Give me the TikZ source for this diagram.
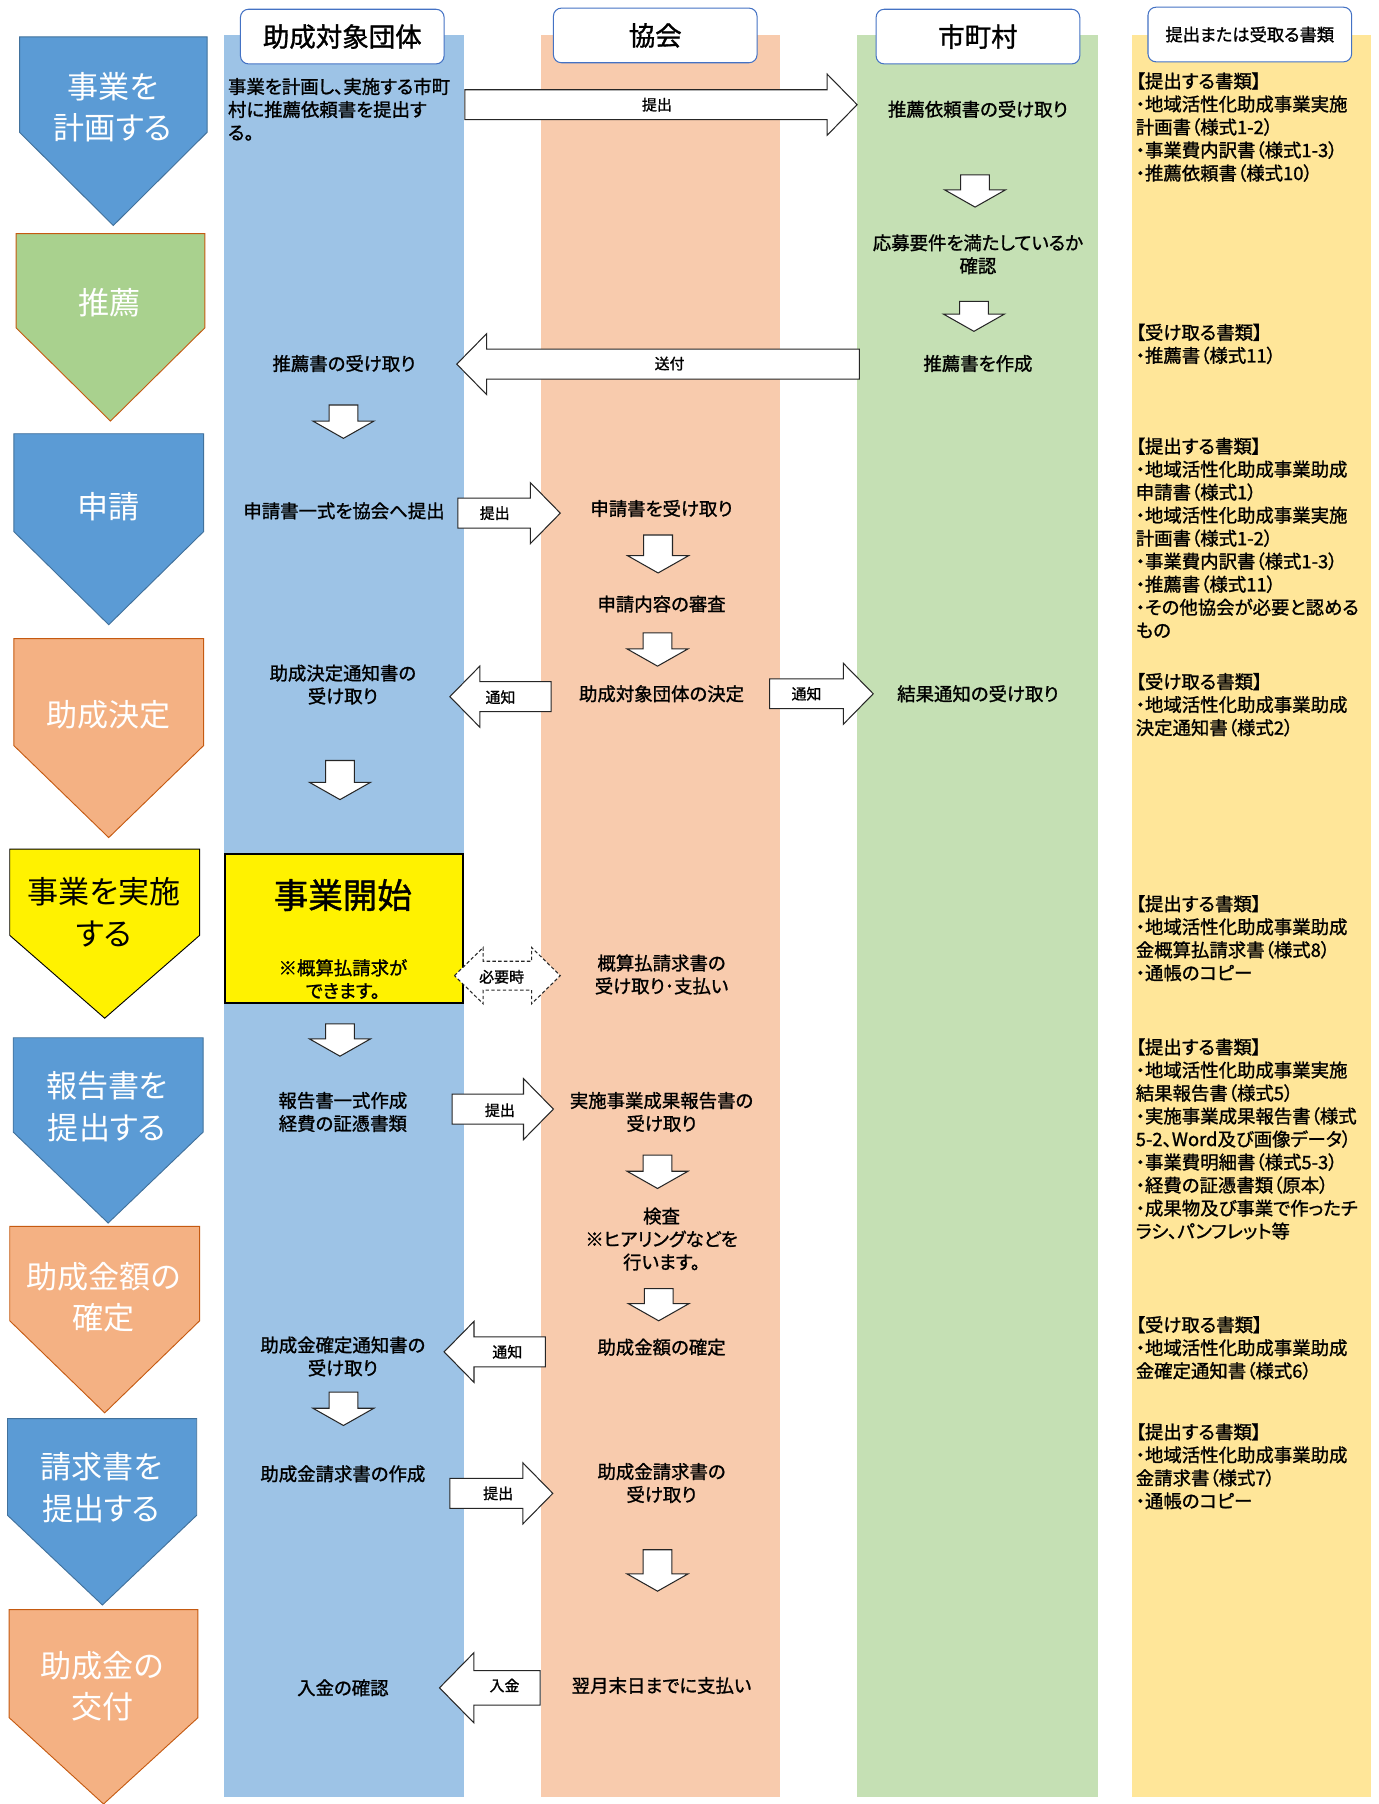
\documentclass[tikz,border=0pt]{standalone}
\usepackage{fontspec}
\setmainfont{Noto Sans CJK JP}[RawFeature=+palt]
\newfontfamily\medfont{Noto Sans CJK JP}[RawFeature=+palt, FakeBold=1.2]
\usetikzlibrary{positioning, calc}
\definecolor{laneA}{HTML}{9DC3E6}
\definecolor{laneB}{HTML}{F8CBAD}
\definecolor{laneC}{HTML}{C5E0B4}
\definecolor{laneD}{HTML}{FFE699}
\definecolor{stepblue}{HTML}{5B9BD5}
\definecolor{stepblueedge}{HTML}{41719C}
\definecolor{stepgreen}{HTML}{A9D18E}
\definecolor{steporange}{HTML}{F4B183}
\definecolor{steporangeedge}{HTML}{C55A11}
\definecolor{headedge}{HTML}{4472C4}
% sideways block arrow: [size]{tail x}{tip x}{y}
\newcommand{\sideblock}[4][1]{%
  \pgfmathsetmacro{\hx}{#3-26*#1*(#3-#2)/abs(#3-#2)}%
  \pgfmathsetmacro{\ys}{13*#1}\pgfmathsetmacro{\yh}{26.5*#1}%
  \draw[block] (#2,#4-\ys) -- (\hx,#4-\ys) -- (\hx,#4-\yh) -- (#3,#4)
    -- (\hx,#4+\yh) -- (\hx,#4+\ys) -- (#2,#4+\ys) -- cycle;}
% downward block arrow: {centre x}{top y}{tip y}
\newcommand{\downblock}[3]{%
  \draw[block] (#1-12.5,#2) -- (#1+12.5,#2) -- (#1+12.5,#3-15) -- (#1+26.5,#3-15)
    -- (#1,#3) -- (#1-26.5,#3-15) -- (#1-12.5,#3-15) -- cycle;}

\begin{document}
\begin{tikzpicture}[
    x=1pt, y=-1pt,
    head/.style={draw=headedge, fill=white, rounded corners=7pt, line width=0.9pt, minimum width=177, minimum height=47.5, inner sep=0, font=\medfont\fontsize{23}{28}\selectfont},
    steptext/.style={white, font=\fontsize{27}{36}\selectfont, align=center, inner sep=0},
    txt/.style={font=\medfont\fontsize{16}{20}\selectfont, align=center, inner sep=0},
    doc/.style={font=\medfont\fontsize{16}{20}\selectfont, align=left, anchor=west, inner sep=0},
    tag/.style={font=\medfont\fontsize{13}{15}\selectfont, inner sep=0},
    block/.style={draw=black!85, fill=white, line width=0.9pt},
    stepb/.style={fill=stepblue, draw=stepblueedge, line width=0.8pt},
    stepg/.style={fill=stepgreen, draw=steporangeedge, line width=0.8pt},
    stepo/.style={fill=steporange, draw=steporangeedge, line width=0.8pt},
    stepy/.style={fill=yellow, draw=black, line width=0.8pt}
]
\useasboundingbox (0,0) rectangle (1198,1568);
\fill[white] (0,0) rectangle (1198,1568);

% Lanes
\fill[laneA] (195,30.5) rectangle (403,1562);
\fill[laneB] (470,30.5) rectangle (678,1562);
\fill[laneC] (745,30.5) rectangle (954,1562);
\fill[laneD] (984,30.5) rectangle (1192,1562);

% Lane headers
\node[head] (hdA) at (297.5,31.8) {助成対象団体};
\node[head] (hdB) at (569.5,30.8) {協会};
\node[head] (hdC) at (850,31.8) {市町村};
\node[head, font=\medfont\fontsize{15}{18}\selectfont] (hdD) at (1086.3,30) {提出または受取る書類};

% Steps on the left
\draw[stepb] (17,32) -- (180,32) -- (180,115) -- (98.5,196) -- (17,115) -- cycle;
\node[steptext] (stplan) at (98,93) {事業を\\計画する};
\draw[stepg] (14,203) -- (178,203) -- (178,285) -- (96,366) -- (14,285) -- cycle;
\node[steptext] (strec) at (95.5,263) {推薦};
\draw[stepb] (12,377) -- (177,377) -- (177,462) -- (94.5,543) -- (12,462) -- cycle;
\node[steptext] (stapply) at (94.5,440) {申請};
\draw[stepo] (12,555) -- (177,555) -- (177,648) -- (94.5,728) -- (12,648) -- cycle;
\node[steptext] (stdecide) at (94,621) {助成決定};
\draw[stepy] (8.5,738) -- (173.5,738) -- (173.5,813) -- (91,885) -- (8.5,813) -- cycle;
\node[steptext, black] (stdo) at (90.5,793) {事業を実施\\する};
\draw[stepb] (11.5,902) -- (176.5,902) -- (176.5,984) -- (94,1063) -- (11.5,984) -- cycle;
\node[steptext] (streport) at (93,962) {報告書を\\提出する};
\draw[stepo] (8.5,1066) -- (173.5,1066) -- (173.5,1148) -- (91,1228) -- (8.5,1148) -- cycle;
\node[steptext] (stfix) at (90,1127.5) {助成金額の\\確定};
\draw[stepb] (6.5,1233) -- (171,1233) -- (171,1317) -- (89,1395) -- (6.5,1317) -- cycle;
\node[steptext] (stclaim) at (88,1293) {請求書を\\提出する};
\draw[stepo] (8,1399) -- (172,1399) -- (172,1493) -- (90,1568) -- (8,1493) -- cycle;
\node[steptext] (stpay) at (89,1465.5) {助成金の\\交付};

% Grant group lane
\node[doc] (plan) at (198,95) {事業を計画し、実施する市町\\村に推薦依頼書を提出す\\る。};
\node[txt] (recrecv) at (299,316) {推薦書の受け取り};
\node[txt] (apply) at (299,444) {申請書一式を協会へ提出};
\node[txt] (notice) at (298,595) {助成決定通知書の\\受け取り};
\node[draw, fill=yellow, line width=1.5pt, minimum width=207, minimum height=129, inner sep=0] (start) at (299,807) {};
\node[font=\medfont\fontsize{30}{34}\selectfont, inner sep=0] (starttitle) at (298,778) {事業開始};
\node[txt] (startnote) at (298,851) {※概算払請求が\\できます。};
\node[txt] (report) at (298,966.5) {報告書一式作成\\経費の証憑書類};
\node[txt] (fixrecv) at (298,1179) {助成金確定通知書の\\受け取り};
\node[txt] (claim) at (298,1281) {助成金請求書の作成};
\node[txt] (deposit) at (298,1467) {入金の確認};

% Association lane
\node[txt] (accept) at (575,442) {申請書を受け取り};
\node[txt] (review) at (575,525) {申請内容の審査};
\node[txt] (decide) at (575,603) {助成対象団体の決定};
\node[txt] (advance) at (575,847) {概算払請求書の\\受け取り･支払い};
\node[txt] (result) at (575,966.5) {実施事業成果報告書の\\受け取り};
\node[txt] (inspect) at (575,1077) {検査\\※ヒアリングなどを\\行います。};
\node[txt] (fix) at (575,1171) {助成金額の確定};
\node[txt] (claimrecv) at (575,1289) {助成金請求書の\\受け取り};
\node[txt] (pay) at (575,1465) {翌月末日までに支払い};

% Municipality lane
\node[txt] (reqrecv) at (850,95) {推薦依頼書の受け取り};
\node[txt] (check) at (850,221) {応募要件を満たしているか\\確認};
\node[txt] (recmake) at (850,316) {推薦書を作成};
\node[txt] (resultrecv) at (850,603) {結果通知の受け取り};

% Documents lane
\node[doc] (docA) at (987,110.5) {【提出する書類】\\・地域活性化助成事業実施\\計画書（様式1-2）\\・事業費内訳書（様式1-3）\\・推薦依頼書（様式10）};
\node[doc] (docB) at (987,299) {【受け取る書類】\\・推薦書（様式11）};
\node[doc] (docC) at (987,467.5) {【提出する書類】\\・地域活性化助成事業助成\\申請書（様式1）\\・地域活性化助成事業実施\\計画書（様式1-2）\\・事業費内訳書（様式1-3）\\・推薦書（様式11）\\・その他協会が必要と認める\\もの};
\node[doc] (docD) at (987,612.5) {【受け取る書類】\\・地域活性化助成事業助成\\決定通知書（様式2）};
\node[doc] (docE) at (987,815.5) {【提出する書類】\\・地域活性化助成事業助成\\金概算払請求書（様式8）\\・通帳のコピー};
\node[doc] (docF) at (987,990) {【提出する書類】\\・地域活性化助成事業実施\\結果報告書（様式5）\\・実施事業成果報告書（様式\\5-2、Word及び画像データ）\\・事業費明細書（様式5-3）\\・経費の証憑書類（原本）\\・成果物及び事業で作ったチ\\ラシ、パンフレット等};
\node[doc] (docG) at (987,1171.5) {【受け取る書類】\\・地域活性化助成事業助成\\金確定通知書（様式6）};
\node[doc] (docH) at (987,1274.5) {【提出する書類】\\・地域活性化助成事業助成\\金請求書（様式7）\\・通帳のコピー};

% Flow inside the lanes
\downblock{298.5}{352}{381}
\downblock{295.5}{661}{695}
\downblock{295.5}{890}{918}
\downblock{298.5}{1210}{1239}
\downblock{572}{465}{498}
\downblock{571.5}{550}{579}
\downblock{571.5}{1004}{1033}
\downblock{572.5}{1120}{1148}
\downblock{571.5}{1347}{1383}
\downblock{847.5}{152}{180}
\downblock{846.5}{262}{288}

% Hand-overs between lanes
\sideblock{404}{745}{91}
\sideblock{747}{397}{316.5}
\sideblock{398}{487}{446}
\sideblock{479}{391}{605.5}
\sideblock{669}{759}{603}
\sideblock{393}{481}{964}
\sideblock{474}{386}{1175}
\sideblock{391}{480.5}{1298}
\sideblock[1.15]{469.5}{382}{1467}
\draw[block, dash pattern=on 3pt off 2pt] (395,848) -- (420,823.5) -- (420,835.5) -- (462,835.5) -- (462,823.5) -- (487,848)
  -- (462,872.5) -- (462,860.5) -- (420,860.5) -- (420,872.5) -- cycle;
\node[tag] (lbA) at (571,91) {提出};
\node[tag] (lbB) at (582,316) {送付};
\node[tag] (lbC) at (430,446) {提出};
\node[tag] (lbD) at (435,606) {通知};
\node[tag] (lbE) at (701,603) {通知};
\node[tag] (lbF) at (436,849) {必要時};
\node[tag] (lbG) at (434.5,965) {提出};
\node[tag] (lbH) at (441,1175) {通知};
\node[tag] (lbI) at (433,1298) {提出};
\node[tag] (lbJ) at (438.5,1465) {入金};
\end{tikzpicture}
\end{document}
